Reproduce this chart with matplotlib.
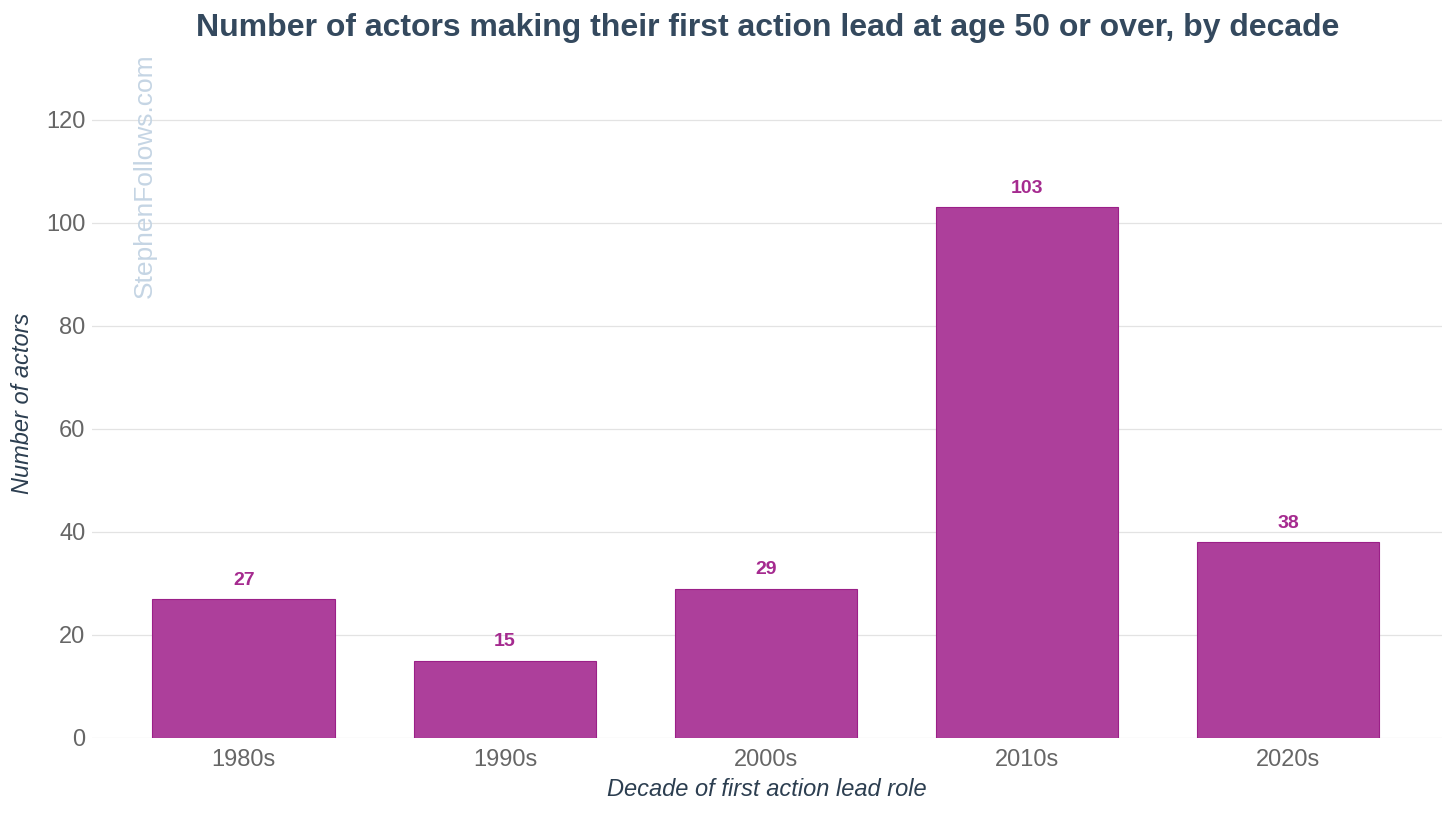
import matplotlib.pyplot as plt

decades = ['1980s', '1990s', '2000s', '2010s', '2020s']
actors = [27, 15, 29, 103, 38]
y_ticks = [0, 20, 40, 60, 80, 100, 120]

plt.rcParams['font.family'] = ['Liberation Sans', 'DejaVu Sans']

fig = plt.figure(figsize=(14.56, 8.13), dpi=100)
ax = fig.add_axes([0.0635, 0.0923, 0.9269, 0.824])

x = range(len(decades))
bars = ax.bar(x, actors, width=0.7, color='#ad3f9b', edgecolor='#9b2088', linewidth=0.8, zorder=3)

for xi, v in zip(x, actors):
    ax.text(xi, v + 2.0, str(v), ha='center', va='bottom', fontsize=14,
            fontweight='bold', color='#a52a8f', zorder=4)

ax.set_xlim(-0.58, 4.59)
ax.set_ylim(0, 130)
ax.set_xticks(list(x))
ax.set_xticklabels(decades)
ax.set_yticks(y_ticks)
ax.tick_params(axis='both', length=0, labelsize=17, colors='#666666')
ax.tick_params(axis='x', pad=8)
ax.tick_params(axis='y', pad=5)
ax.grid(axis='y', color='#e3e3e3', linewidth=0.9, zorder=0)
for s in ax.spines.values():
    s.set_visible(False)

ax.set_xlabel('Decade of first action lead role', fontsize=17, style='italic',
              color='#2c3e50', labelpad=5)
ax.set_ylabel('Number of actors', fontsize=17, style='italic', color='#2c3e50', labelpad=9)

fig.text(0.527, 0.966, 'Number of actors making their first action lead at age 50 or over, by decade',
         ha='center', va='center', fontsize=23, fontweight='bold', color='#34495e')

fig.text(0.0995, 0.7835, 'StephenFollows.com', rotation=90, ha='center', va='center',
         fontsize=19, color='#c5d5e4')

fig.savefig('out.png', dpi=100)
